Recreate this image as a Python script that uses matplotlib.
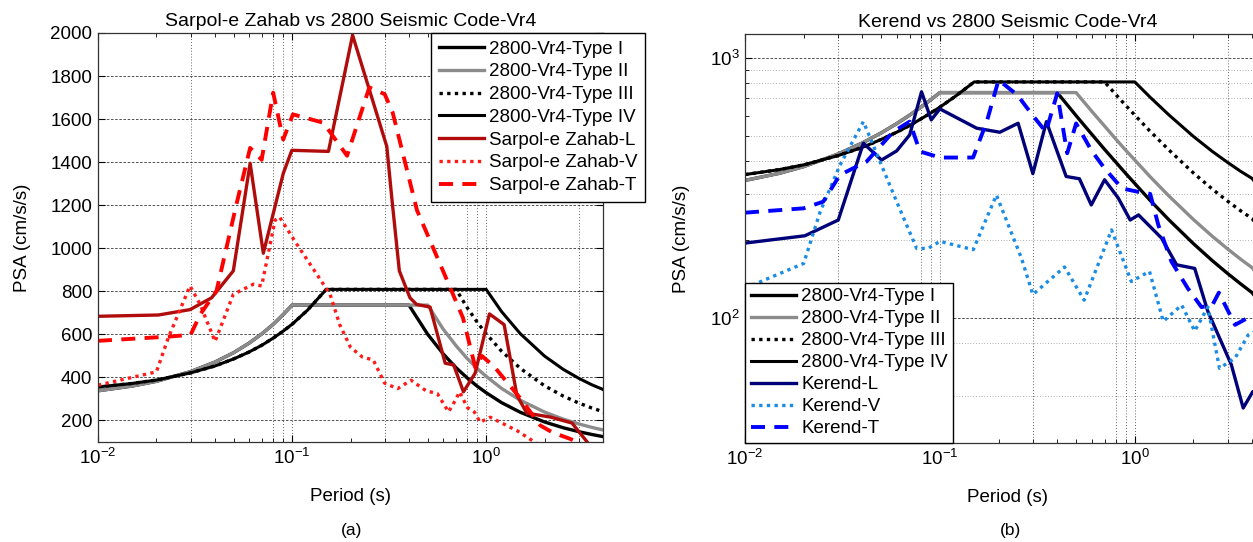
import matplotlib
matplotlib.use("Agg")
import matplotlib.pyplot as plt
from matplotlib.ticker import LogLocator, NullFormatter, FixedLocator

plt.rcParams['font.family'] = ['Liberation Sans', 'DejaVu Sans']
plt.rcParams['mathtext.default'] = 'regular'

# 2800 code design spectra, periods in s, PSA in cm/s/s
code_T = [0.01, 0.015, 0.02, 0.03, 0.04, 0.05, 0.06, 0.07, 0.08, 0.09, 0.1, 0.12, 0.15,
          0.2, 0.3, 0.4, 0.5, 0.6, 0.7, 0.8, 0.9, 1.0, 1.2, 1.5, 2.0, 2.5, 3.0, 3.5, 4.0, 5.0]
type1 = [338, 360, 382, 427, 471, 515, 559, 603, 647, 692, 736, 736, 736,
         736, 736, 736, 600, 510, 445, 397, 359, 329, 283, 238, 193, 166, 148, 135, 125, 100]
type2 = [338, 360, 382, 427, 471, 515, 559, 603, 647, 692, 736, 736, 736,
         736, 736, 736, 736, 625, 547, 487, 441, 405, 349, 294, 239, 206, 184, 168, 156, 125]
type3 = [356, 372, 388, 421, 453, 486, 518, 550, 583, 615, 647, 712, 809,
         809, 809, 809, 809, 809, 809, 723, 656, 603, 522, 442, 361, 313, 281, 258, 241, 193]
type4 = [356, 372, 388, 421, 453, 486, 518, 550, 583, 615, 647, 712, 809,
         809, 809, 809, 809, 809, 809, 809, 809, 809, 706, 603, 499, 437, 396, 366, 344, 275]
code_labels = ["2800-Vr4-Type I", "2800-Vr4-Type II", "2800-Vr4-Type III", "2800-Vr4-Type IV"]

# Sarpol-e Zahab records
sz_L_T = [0.01, 0.0205, 0.0298, 0.0385, 0.0498, 0.0608, 0.0711, 0.0901, 0.0997, 0.154, 0.205,
          0.3076, 0.326, 0.357, 0.405, 0.438, 0.514, 0.615, 0.68, 0.764, 0.877, 1.04, 1.238,
          1.44, 1.62, 2.14, 2.77, 3.37]
sz_L = [684, 690, 715, 770, 895, 1395, 977, 1348, 1455, 1450, 1990,
        1473, 1239, 895, 770, 739, 727, 466, 458, 333, 419, 695, 645,
        317, 234, 216, 188, 92]
sz_V_T = [0.01, 0.02, 0.023, 0.0298, 0.0336, 0.0401, 0.0498, 0.0632, 0.0697, 0.0817, 0.0862,
          0.1056, 0.145, 0.157, 0.176, 0.2, 0.23, 0.262, 0.3, 0.35, 0.41, 0.49, 0.56, 0.64,
          0.69, 0.73, 0.8, 0.87, 0.93, 1.05, 1.18, 1.44, 1.83]
sz_V = [364, 426, 583, 825, 739, 567, 786, 833, 825, 1130, 1145,
        1020, 833, 786, 645, 540, 495, 481, 373, 348, 387, 338, 325, 240,
        290, 333, 260, 239, 192, 215, 192, 153, 92]
sz_T_T = [0.01, 0.0235, 0.03, 0.0336, 0.0408, 0.0518, 0.0608, 0.0697, 0.0799, 0.09, 0.101,
          0.145, 0.192, 0.25, 0.30, 0.33, 0.44, 0.62, 0.76, 0.88, 0.95, 1.1, 1.5, 1.9, 2.2,
          2.7, 3.2]
sz_T = [570, 590, 598, 692, 802, 1208, 1466, 1411, 1723, 1505, 1622,
        1583, 1430, 1747, 1716, 1630, 1177, 864, 676, 445, 500, 450, 303, 177, 144,
        115, 85]
sz_labels = ["Sarpol-e Zahab-L", "Sarpol-e Zahab-V", "Sarpol-e Zahab-T"]

# Kerend records
ke_L_T = [0.01, 0.0203, 0.0301, 0.0405, 0.0502, 0.06, 0.07, 0.0805, 0.0903, 0.1, 0.1543,
          0.203, 0.252, 0.3, 0.352, 0.4446, 0.52, 0.598, 0.7, 0.823, 0.947, 1.045, 1.37,
          1.64, 2.03, 2.37, 3.13, 3.6, 4.03, 5.0]
ke_L = [194, 207, 238, 470, 405, 439, 506, 741, 578, 637, 537,
        518, 561, 359, 569, 350, 343, 272, 340, 289, 238, 249, 203,
        160, 155, 106, 66, 45, 52, 55]
ke_V_T = [0.01, 0.02, 0.0243, 0.0307, 0.0405, 0.0493, 0.06, 0.076, 0.087, 0.1, 0.1483,
          0.195, 0.262, 0.3, 0.436, 0.55, 0.76, 0.96, 1.19, 1.4, 1.74, 2.03, 2.37, 2.72,
          3.27, 3.82, 5.0]
ke_V = [130, 162, 256, 387, 569, 399, 280, 185, 185, 197, 183,
        297, 170, 123, 157, 117, 218, 138, 151, 97, 112, 89, 110, 64,
        70, 86, 95]
ke_T_T = [0.01, 0.02, 0.0252, 0.0307, 0.042, 0.0577, 0.07, 0.0789, 0.1, 0.148, 0.174,
          0.2, 0.25, 0.3, 0.35, 0.4, 0.45, 0.5, 0.6, 0.7, 0.86, 1.05, 1.2, 1.32, 1.54,
          1.87, 2.2, 2.5, 2.7, 3.27, 3.8, 5.0]
ke_T = [254, 264, 280, 355, 399, 521, 569, 437, 414, 414, 569,
        823, 720, 600, 520, 731, 430, 560, 440, 376, 315, 305, 300, 228, 165,
        130, 110, 112, 125, 94, 100, 105]
ke_labels = ["Kerend-L", "Kerend-V", "Kerend-T"]

W, H = 1253, 542
fig = plt.figure(figsize=(W / 100, H / 100), dpi=100)

ax1 = fig.add_axes([98 / W, 1 - 442 / H, (603 - 98) / W, (442 - 33) / H])
ax2 = fig.add_axes([745 / W, 1 - 443 / H, (1271 - 745) / W, (443 - 34) / H])

vgrid = [0.03, 0.08, 0.09, 0.1, 0.3, 0.8, 0.9, 1.0, 3.0]
FS = 13.5


def draw_code(ax):
    ax.plot(code_T, type1, color='k', lw=2.4, label=code_labels[0])
    ax.plot(code_T, type2, color='#8c8c8c', lw=2.4, label=code_labels[1])
    ax.plot(code_T, type3, color='k', lw=2.4, ls=(0, (1, 1.3)), label=code_labels[2])
    ax.plot(code_T, type4, color='k', lw=2.2, label=code_labels[3])


def style_axes(ax, xmax):
    ax.set_xscale('log')
    ax.set_xlim(0.01, xmax)
    ax.xaxis.set_major_locator(FixedLocator([0.01, 0.1, 1.0]))
    ax.xaxis.set_minor_locator(LogLocator(base=10, subs=range(2, 10)))
    ax.xaxis.set_minor_formatter(NullFormatter())
    for t in vgrid:
        ax.axvline(t, color='k', lw=0.6, ls=(0, (1, 2.5)), alpha=0.8, zorder=0)
    ax.tick_params(which='both', direction='in', top=True, right=True, labelsize=FS)
    ax.tick_params(which='major', length=5, pad=4)
    ax.tick_params(which='minor', length=3)
    for s in ax.spines.values():
        s.set_color('#333333')
        s.set_linewidth(0.9)
    ax.set_xlabel("Period (s)", fontsize=FS, labelpad=15)
    ax.set_ylabel("PSA (cm/s/s)", fontsize=FS, labelpad=14)


# (a) Sarpol-e Zahab
draw_code(ax1)
ax1.plot(sz_L_T, sz_L, color='#b00c0c', lw=2.4, label=sz_labels[0])
ax1.plot(sz_V_T, sz_V, color='#ff1a1a', lw=2.4, ls=(0, (1, 1.3)), label=sz_labels[1])
ax1.plot(sz_T_T, sz_T, color='#ff0000', lw=2.8, ls=(0, (3.6, 2.4)), label=sz_labels[2])
style_axes(ax1, 4.0)
ax1.set_ylim(100, 2000)
ax1.set_yticks(range(200, 2001, 200))
for v in range(200, 1801, 200):
    ax1.axhline(v, color='k', lw=0.6, ls=(0, (3, 2)), alpha=0.8, zorder=0)
ax1.set_title("Sarpol-e Zahab vs 2800 Seismic Code-Vr4", fontsize=14, pad=5)
leg1 = ax1.legend(loc='upper left', bbox_to_anchor=(431 / W, 1 - 33 / H),
                  bbox_transform=fig.transFigure, borderaxespad=0, fontsize=FS,
                  handlelength=2.4, handletextpad=0.3, borderpad=0.4, labelspacing=0.3,
                  fancybox=False, framealpha=1, edgecolor='k')
leg1.get_frame().set_linewidth(1.0)

# (b) Kerend
draw_code(ax2)
ax2.plot(ke_L_T, ke_L, color='#000078', lw=2.4, label=ke_labels[0])
ax2.plot(ke_V_T, ke_V, color='#1a8ce6', lw=2.4, ls=(0, (1, 1.3)), label=ke_labels[1])
ax2.plot(ke_T_T, ke_T, color='#0000ff', lw=2.8, ls=(0, (3.6, 2.4)), label=ke_labels[2])
style_axes(ax2, 5.0)
ax2.set_yscale('log')
ax2.set_ylim(33, 1237)
ax2.yaxis.set_major_locator(FixedLocator([100, 1000]))
ax2.yaxis.set_minor_locator(LogLocator(base=10, subs=range(2, 10)))
ax2.yaxis.set_minor_formatter(NullFormatter())
for v in [100, 1000]:
    ax2.axhline(v, color='k', lw=0.6, ls=(0, (3, 2)), alpha=0.8, zorder=0)
for v in [50, 80, 200, 300, 400, 500, 700, 800, 900]:
    ax2.axhline(v, color='k', lw=0.5, ls=(0, (1, 3)), alpha=0.6, zorder=0)
ax2.set_title("Kerend vs 2800 Seismic Code-Vr4", fontsize=14, pad=5)
leg2 = ax2.legend(loc='lower left', bbox_to_anchor=(0, 0), borderaxespad=0, fontsize=FS,
                  handlelength=2.4, handletextpad=0.3, borderpad=0.3, labelspacing=0.26,
                  fancybox=False, framealpha=1, edgecolor='k')
leg2.get_frame().set_linewidth(1.0)

fig.text(352 / W, 1 - 530 / H, "(a)", ha='center', va='center', fontsize=12.5)
fig.text(1010 / W, 1 - 530 / H, "(b)", ha='center', va='center', fontsize=12.5)

fig.savefig("out.png", dpi=100)
